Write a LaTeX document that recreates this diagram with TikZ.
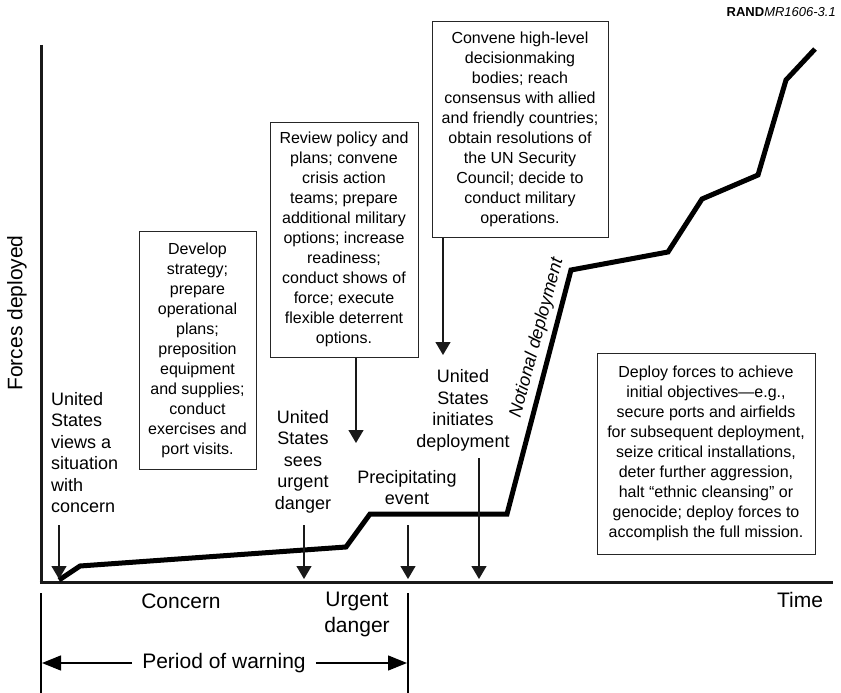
\documentclass[tikz,border=0pt]{standalone}
\usepackage{fontspec}
\setmainfont{Liberation Sans}
\usetikzlibrary{arrows.meta}

\begin{document}
\begin{tikzpicture}[x=1pt,y=-1pt,
        infobox/.style={draw=black!85,line width=1pt,align=center,inner sep=0pt,font=\fontsize{16}{20}\selectfont},
        eventlabel/.style={align=center,inner sep=0pt,font=\fontsize{18}{21.5}\selectfont},
        biglabel/.style={align=center,inner sep=0pt,font=\fontsize{21}{26}\selectfont},
        pointer/.style={black!90,line width=1.2pt,-{Triangle[length=13pt,width=15pt]}},
        span/.style={line width=1.4pt,-{Triangle[length=19pt,width=15pt]}}]
        \useasboundingbox (0,0) rectangle (841,693);

        %AXIS Y
        \draw[black!90,line width=3pt] (41,45) -- (41,584);
        %AXIS X
        \draw[black!90,line width=3pt] (39.5,582) -- (833,582);
        %PERIOD LIMITS
        \draw[line width=2.5pt] (41,593) -- (41,693);
        \draw[line width=2.5pt] (408,593) -- (408,693);

        % deployment curve
        \draw[line width=5pt] plot coordinates {(59,580) (80,566) (346,547) (370,514) (507,514) (571,270) (668,252) (702,199) (758,175) (786,80) (815,49)};

        % labels
        \node[anchor=east,inner sep=0pt,font=\fontsize{13}{15}\selectfont] (rand) at (836,12) {\textbf{RAND}\textit{MR1606-3.1}};
        \node[biglabel,rotate=90] (forces) at (17,313) {Forces deployed};
        \node[biglabel] (time) at (800,600) {Time};
        \node[biglabel] (concern) at (181,601) {Concern};
        \node[biglabel] (urgent) at (357,614) {Urgent\\danger};
        \node[biglabel,inner xsep=10pt] (warning) at (224,663) {Period of warning};
        \node[eventlabel,rotate=75,font=\fontsize{18}{21.5}\selectfont\itshape] (notional) at (537,338) {Notional deployment};

        \node[eventlabel,align=left,anchor=west] (usconcern) at (51,452.5) {United\\States\\views a\\situation\\with\\concern};
        \node[eventlabel] (ussees) at (303,461.5) {United\\States\\sees\\urgent\\danger};
        \node[eventlabel] (precip) at (407,487.5) {Precipitating\\event};
        \node[eventlabel] (usinit) at (463,410.5) {United\\States\\initiates\\deployment};

        % boxes
        \node[infobox,minimum width=117pt,minimum height=238pt] (develop) at (197.5,350) {Develop\\strategy;\\prepare\\operational\\plans;\\preposition\\equipment\\and supplies;\\conduct\\exercises and\\port visits.};
        \node[infobox,minimum width=148pt,minimum height=235pt] (review) at (344,239.5) {Review policy and\\plans; convene\\crisis action\\teams; prepare\\additional military\\options; increase\\readiness;\\conduct shows of\\force; execute\\flexible deterrent\\options.};
        \node[infobox,minimum width=176pt,minimum height=215pt] (convene) at (520,129.5) {Convene high-level\\decisionmaking\\bodies; reach\\consensus with allied\\and friendly countries;\\obtain resolutions of\\the UN Security\\Council; decide to\\conduct military\\operations.};
        \node[infobox,minimum width=218pt,minimum height=201pt] (deploy) at (706,453.5) {Deploy forces to achieve\\initial objectives—e.g.,\\secure ports and airfields\\for subsequent deployment,\\seize critical installations,\\deter further aggression,\\halt “ethnic cleansing” or\\genocide; deploy forces to\\accomplish the full mission.};

        % pointers
        \coordinate (concernfrom) at (59,525);
        \coordinate (concerntip) at (59,579);
        \coordinate (seesfrom) at (304,525);
        \coordinate (seestip) at (304,579);
        \coordinate (precipfrom) at (408,525);
        \coordinate (preciptip) at (408,579);
        \coordinate (initfrom) at (479,458);
        \coordinate (inittip) at (479,579);
        \coordinate (reviewtip) at (356,443);
        \coordinate (convenetip) at (443,355);
        \draw[pointer] (concernfrom) -- (concerntip);
        \draw[pointer] (seesfrom) -- (seestip);
        \draw[pointer] (precipfrom) -- (preciptip);
        \draw[pointer] (initfrom) -- (inittip);
        \draw[pointer] (reviewtip |- review.south) -- (reviewtip);
        \draw[pointer] (convenetip |- convene.south) -- (convenetip);

        % period of warning
        \coordinate (warnL) at (42,663);
        \coordinate (warnR) at (407,663);
        \draw[span] (warning.west) -- (warnL);
        \draw[span] (warning.east) -- (warnR);
    \end{tikzpicture}
\end{document}
